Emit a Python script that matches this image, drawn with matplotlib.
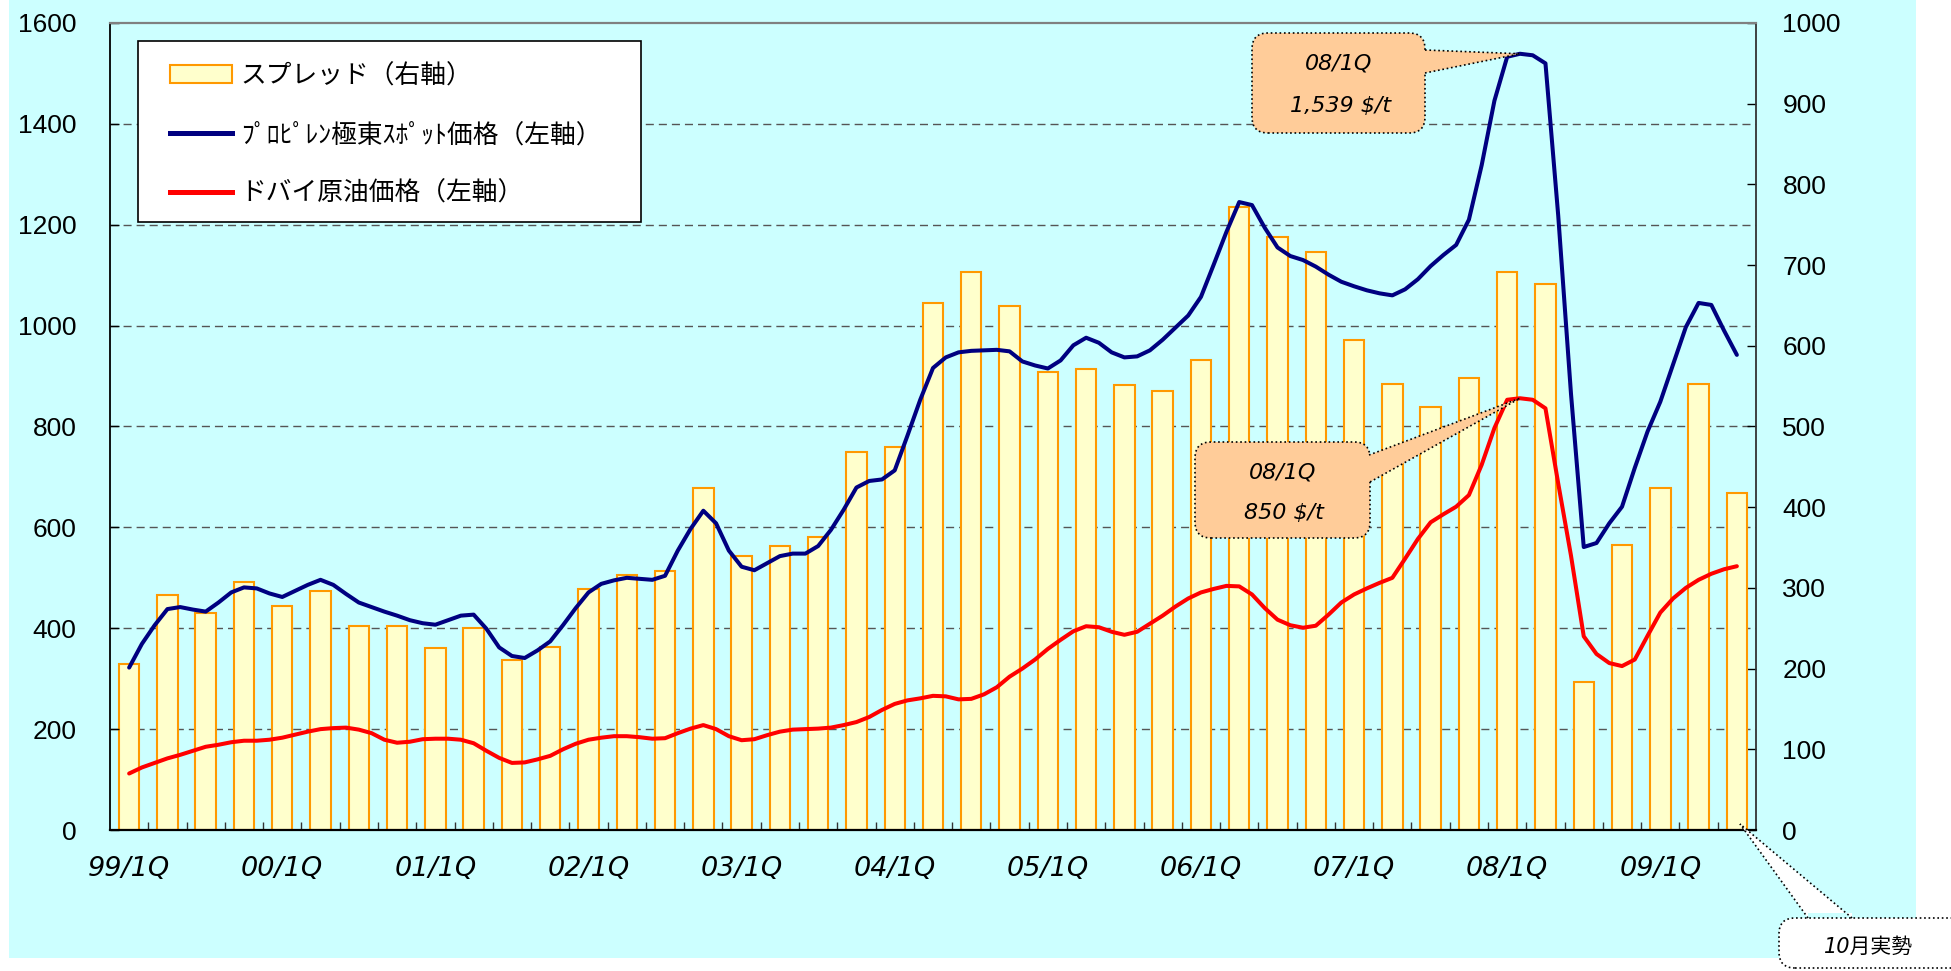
import numpy as np
import matplotlib
matplotlib.use('Agg')
import matplotlib.pyplot as plt
from matplotlib.patches import FancyBboxPatch, Polygon, Rectangle, Patch
from matplotlib.lines import Line2D
from matplotlib.transforms import IdentityTransform

plt.rcParams['font.family'] = ['Liberation Sans', 'Noto Sans CJK JP']
latin = ['DejaVu Sans', 'Noto Sans CJK JP']

# quarterly spread (right axis, $/t), one bar per quarter
spread = [206, 291, 269, 307, 277, 296, 253, 253, 225, 250, 211, 227, 299, 316, 321,
          424, 340, 352, 363, 468, 474, 653, 691, 649, 568, 571, 552, 544, 582, 772,
          735, 716, 607, 553, 524, 560, 691, 677, 183, 353, 424, 553, 417]

# monthly prices (left axis, $/t)
propylene = [322, 369, 406, 438, 442, 437, 433, 451, 471, 481, 479, 469, 462, 474, 486,
             496, 486, 468, 451, 442, 433, 425, 416, 410, 407, 416, 425, 427, 399, 362,
             345, 341, 356, 374, 406, 440, 471, 488, 495, 500, 498, 496, 504, 554, 597,
             633, 608, 554, 522, 515, 529, 543, 548, 548, 563, 595, 635, 679, 692, 695,
             713, 782, 853, 916, 937, 947, 950, 951, 952, 949, 929, 921, 915, 931, 961,
             976, 966, 947, 937, 939, 951, 972, 996, 1020, 1057, 1121, 1186, 1245, 1239, 1194,
             1155, 1138, 1130, 1117, 1101, 1087, 1078, 1070, 1064, 1060, 1072, 1092, 1118, 1140, 1160,
             1210, 1318, 1446, 1533, 1539, 1536, 1520, 1218, 865, 561, 569, 608, 641, 718, 790,
             849, 923, 997, 1045, 1041, 990, 942]
dubai = [112, 124, 133, 142, 149, 157, 165, 169, 174, 177, 177, 179, 183, 189, 195,
         200, 202, 203, 199, 192, 179, 173, 175, 180, 181, 181, 179, 172, 157, 143,
         133, 134, 140, 147, 160, 171, 179, 183, 186, 186, 184, 181, 182, 192, 201,
         208, 200, 186, 178, 180, 188, 195, 199, 200, 201, 203, 208, 214, 224, 238,
         250, 257, 261, 266, 265, 259, 260, 269, 283, 304, 320, 338, 359, 377, 394,
         404, 402, 393, 387, 393, 409, 425, 443, 459, 471, 478, 484, 483, 467, 440,
         417, 406, 401, 405, 427, 451, 467, 479, 490, 500, 538, 577, 610, 626, 641,
         664, 724, 797, 853, 856, 853, 836, 687, 544, 384, 349, 331, 325, 338, 385,
         431, 459, 480, 496, 508, 517, 523]

year_labels = ['99/1Q', '00/1Q', '01/1Q', '02/1Q', '03/1Q', '04/1Q',
               '05/1Q', '06/1Q', '07/1Q', '08/1Q', '09/1Q']
legend_labels = ['スプレッド（右軸）', 'ﾌﾟﾛﾋﾟﾚﾝ極東ｽﾎﾟｯﾄ価格（左軸）', 'ドバイ原油価格（左軸）']

months = np.arange(len(propylene))
bar_x = np.arange(len(spread)) * 3
R = 1000 / 1600  # right / left axis ratio

W, H = 1951, 971
cyan = '#CCFFFF'
fig = plt.figure(figsize=(W / 100, H / 100), dpi=100, facecolor='white')
fig.add_artist(Rectangle((9 / W, 1 - 958 / H), (1916 - 9) / W, 958 / H,
                         transform=fig.transFigure, fc=cyan, ec='none', zorder=0))

ax = fig.add_axes([110 / W, 1 - 830 / H, 1646 / W, 807 / H])
ax2 = ax.twinx()
ax.set_zorder(2)
ax2.set_zorder(1)
ax.patch.set_visible(False)
ax2.patch.set_visible(True)
ax2.patch.set_facecolor(cyan)

# grid lines at the left-axis ticks, behind the bars
left_ticks = np.arange(0, 1601, 200)
ax2.hlines(left_ticks[1:-1] * R, -1.5, 127.5, colors='#555555',
           linestyles=(0, (5.8, 3.6)), linewidth=1.0, zorder=1)

ax2.bar(bar_x, spread, width=1.6, color='#FFFFCC', edgecolor='#FF9900',
        linewidth=1.5, zorder=2)
ax.plot(months, propylene, color='#000080', lw=2.9, solid_joinstyle='round',
        solid_capstyle='round', zorder=3)
ax.plot(months, dubai, color='#FF0000', lw=2.9, solid_joinstyle='round',
        solid_capstyle='round', zorder=3)

ax.set_xlim(-1.5, 127.5)
ax.set_ylim(0, 1600)
ax2.set_ylim(0, 1000)
ax.set_yticks(left_ticks)
ax2.set_yticks(np.arange(0, 1001, 100))
ax.set_xticks(bar_x[::4])
ax.set_xticklabels(year_labels, fontstyle='italic', family=latin)
ax.set_xticks(bar_x[:-1] + 1.5, minor=True)

ax.tick_params(axis='y', direction='in', length=6.5, width=1, pad=24, labelsize=19)
ax2.tick_params(axis='y', direction='in', length=6.5, width=1, pad=19, labelsize=19)
ax.tick_params(axis='x', which='major', length=0, pad=19, labelsize=19.5)
ax.tick_params(axis='x', which='minor', direction='in', length=6, width=1, color='#333333')

for s in ['left', 'top', 'right', 'bottom']:
    ax2.spines[s].set_visible(s == 'right')
ax2.spines['right'].set_color('#333333')
ax2.spines['right'].set_linewidth(1.3)
ax.spines['right'].set_visible(False)
ax.spines['top'].set_color('#808080')
ax.spines['top'].set_linewidth(1.6)
ax.spines['left'].set_linewidth(1.3)
ax.spines['bottom'].set_linewidth(1.6)

# legend: white frame drawn separately, entries placed inside it
ax.add_artist(Rectangle((138 / W, 1 - 222 / H), (641 - 138) / W, (222 - 41) / H,
                        transform=fig.transFigure, fc='white', ec='black', lw=1.2,
                        zorder=4.5, clip_on=False))
handles = [Patch(facecolor='#FFFFCC', edgecolor='#FF9900', lw=1.5),
           Line2D([], [], color='#000080', lw=3.6),
           Line2D([], [], color='#FF0000', lw=3.6)]
leg = ax.legend(handles, legend_labels, loc='upper left',
                bbox_to_anchor=(170 / W, 1 - 64 / H), bbox_transform=fig.transFigure,
                frameon=False, fontsize=18.5, handlelength=2.4, handleheight=0.7,
                handletextpad=0.35, labelspacing=1.33, borderpad=0, borderaxespad=0)
leg.set_zorder(5)


def callout(x0, y0, x1, y1, b0, b1, tip, fc, inward):
    """Speech-bubble box in pixel coords (top origin); tip in display coords."""
    fig.add_artist(FancyBboxPatch((x0, H - y1), x1 - x0, y1 - y0,
                                  boxstyle='round,pad=0,rounding_size=16',
                                  transform=IdentityTransform(), fc=fc, ec='black',
                                  lw=1.2, ls=':', zorder=10, clip_on=False))
    p0 = (b0[0], H - b0[1])
    p1 = (b1[0], H - b1[1])
    q0 = (p0[0] + inward[0], p0[1] - inward[1])
    q1 = (p1[0] + inward[0], p1[1] - inward[1])
    fig.add_artist(Polygon([q0, p0, tip, p1, q1], closed=True,
                           transform=IdentityTransform(), fc=fc, ec='none',
                           zorder=11, clip_on=False))
    for p in (p0, p1):
        fig.add_artist(Line2D([p[0], tip[0]], [p[1], tip[1]], color='black', lw=1.2,
                              ls=':', transform=IdentityTransform(), zorder=12))


def note(x, y, s, size=16):
    fig.text(x / W, 1 - y / H, s, ha='center', va='center', fontsize=size,
             fontstyle='italic', family=latin, zorder=13)


i_top = int(np.argmax(propylene))
tip1 = ax.transData.transform((i_top, propylene[i_top]))
callout(1252, 33, 1425, 133, (1425, 50), (1425, 73), tip1, '#FFCC99', (-5, 0))
note(1339, 63, '08/1Q')
note(1341, 106, f'{propylene[i_top]:,} $/t')

i_oil = int(np.argmax(dubai))
tip2 = ax.transData.transform((i_oil, dubai[i_oil]))
callout(1195, 442, 1370, 538, (1369, 455), (1370, 482), tip2, '#FFCC99', (-5, 0))
note(1283, 472, '08/1Q')
note(1284, 513, '850 $/t')

callout(1779, 918, 1985, 968, (1808, 918), (1852, 918), (1740, H - 824), 'white', (0, -5))
note(1869, 947, '10月実勢', 15)

fig.savefig('out.png', dpi=100, facecolor='white')
